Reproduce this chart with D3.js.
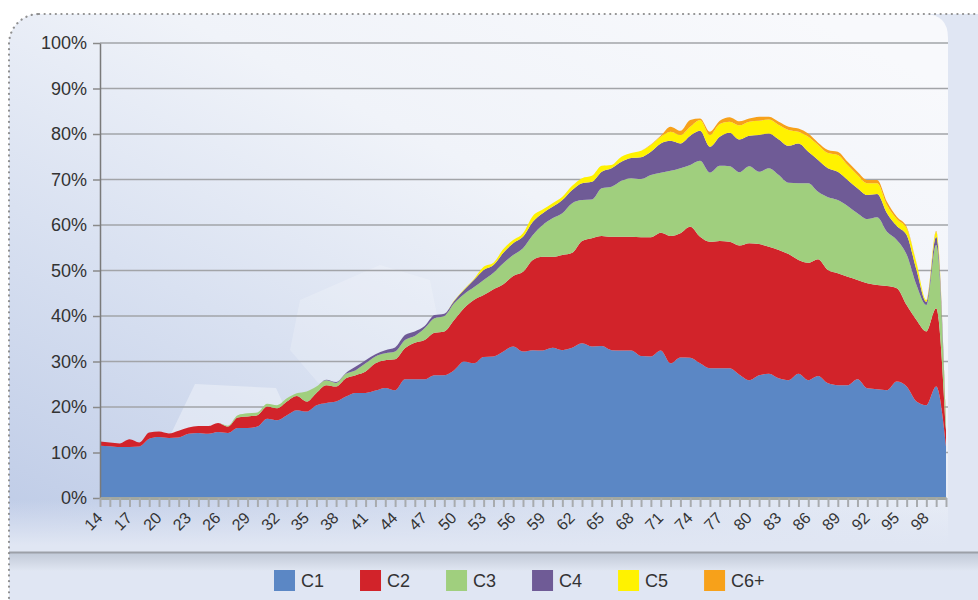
<!DOCTYPE html>
<html>

<head>
  <meta charset="utf-8">
  <title>Stacked area</title>
  <script src="https://d3js.org/d3.v7.min.js"></script>
  <style>
    body { margin: 0; background: #ffffff; }
    text { font-family: "Liberation Sans", Arial, sans-serif; fill: #333; }
  </style>
</head>

<body>
  <div id='view'></div>
  <script>
    var width = 978;
    var height = 600;

    // ages on the x axis
    var years = [14, 15, 16, 17, 18, 19, 20, 21, 22, 23, 24, 25, 26, 27, 28, 29, 30, 31, 32, 33,
      34, 35, 36, 37, 38, 39, 40, 41, 42, 43, 44, 45, 46, 47, 48, 49, 50, 51, 52, 53,
      54, 55, 56, 57, 58, 59, 60, 61, 62, 63, 64, 65, 66, 67, 68, 69, 70, 71, 72, 73,
      74, 75, 76, 77, 78, 79, 80, 81, 82, 83, 84, 85, 86, 87, 88, 89, 90, 91, 92, 93,
      94, 95, 96, 97, 98, 99, 100];
    var tickLabels = [14, 17, 20, 23, 26, 29, 32, 35, 38, 41, 44, 47, 50, 53, 56, 59, 62, 65, 68,
      71, 74, 77, 80, 83, 86, 89, 92, 95, 98];
    var yTicks = [0, 10, 20, 30, 40, 50, 60, 70, 80, 90, 100];

    var keys = ["C1", "C2", "C3", "C4", "C5", "C6+"];
    var colors = ["#5b87c5", "#d2232a", "#a0cf7e", "#6f5b96", "#fff200", "#f7a11a"];

    // series values (% share), one per age
    var c1 = [11.5, 11.4, 11.2, 11.2, 11.3, 13.0, 13.4, 13.2, 13.3, 14.1, 14.3, 14.1, 14.5, 14.3, 15.4, 15.4, 15.7, 17.4, 17.1, 18.2,
      19.3, 19.0, 20.4, 20.9, 21.2, 22.3, 23.1, 23.1, 23.6, 24.2, 23.7, 26.1, 26.1, 26.1, 27.0, 27.0, 28.1, 30.0, 29.6, 31.0,
      31.1, 32.2, 33.3, 32.2, 32.5, 32.4, 33.0, 32.5, 33.0, 34.0, 33.3, 33.4, 32.5, 32.4, 32.4, 31.2, 31.1, 32.4, 29.6, 30.9,
      30.8, 29.6, 28.5, 28.5, 28.5, 27.1, 25.9, 27.0, 27.3, 26.3, 25.9, 27.3, 25.9, 26.8, 25.2, 24.8, 24.8, 26.1, 24.1, 23.9,
      23.7, 25.6, 24.5, 21.2, 20.4, 24.5, 11.4];
    var c2 = [0.9, 0.8, 0.8, 1.7, 0.9, 1.4, 1.2, 1.0, 1.5, 1.4, 1.5, 1.7, 2.0, 1.4, 2.3, 2.5, 2.5, 2.7, 2.6, 3.0,
      3.1, 2.2, 2.7, 3.9, 3.3, 4.0, 3.9, 4.7, 6.0, 6.1, 6.8, 6.8, 8.0, 8.6, 9.3, 9.6, 11.0, 11.7, 13.9, 13.6,
      14.8, 14.8, 15.5, 17.5, 19.8, 20.6, 20.0, 20.9, 20.9, 22.5, 23.8, 24.2, 24.9, 25.0, 25.0, 26.1, 26.2, 25.9, 28.0, 27.3,
      28.8, 27.8, 27.8, 28.0, 27.8, 28.4, 30.1, 28.8, 27.9, 28.2, 27.7, 25.0, 25.8, 25.7, 24.9, 24.6, 23.8, 21.8, 23.1, 22.9,
      22.9, 20.5, 17.9, 17.9, 16.2, 17.2, 3.6];
    var c3 = [0, 0, 0, 0, 0, 0, 0, 0, 0, 0, 0, 0, 0, 0.2, 0.5, 0.7, 0.6, 0.6, 0.7, 0.7,
      0.6, 2.2, 1.4, 1.1, 0.8, 1.0, 1.1, 1.8, 1.5, 1.5, 1.7, 1.8, 1.5, 2.6, 3.2, 3.4, 3.7, 3.1, 2.8, 3.3,
      3.6, 4.6, 4.6, 5.2, 5.5, 7.0, 8.5, 9.2, 10.9, 9.0, 8.5, 10.5, 11.0, 12.3, 12.9, 12.8, 13.7, 13.2, 14.3, 14.3,
      13.6, 16.7, 15.2, 16.5, 16.6, 16.1, 16.9, 15.9, 17.3, 16.5, 15.7, 16.9, 17.5, 14.8, 16.0, 16.1, 15.6, 14.7, 14.1, 14.9,
      11.9, 10.6, 11.1, 7.7, 5.8, 13.9, 1.0];
    var c4 = [0, 0, 0, 0, 0, 0, 0, 0, 0, 0, 0, 0, 0, 0, 0, 0, 0, 0, 0, 0,
      0, 0, 0, 0.1, 0.2, 0.2, 0.8, 0.7, 0.5, 0.7, 0.9, 1.1, 1.0, 0.5, 0.7, 0.5, 0.5, 0.9, 1.6, 2.2,
      1.7, 2.3, 2.6, 2.5, 2.9, 2.6, 2.5, 2.9, 2.9, 3.7, 3.9, 3.6, 4.1, 4.2, 4.4, 4.8, 5.1, 6.4, 6.6, 5.4,
      6.4, 6.6, 5.7, 6.4, 7.4, 7.2, 6.7, 8.1, 7.6, 7.8, 8.1, 8.7, 6.9, 7.0, 6.4, 6.2, 5.7, 5.5, 5.3, 5.1,
      4.1, 3.1, 4.3, 3.3, 0.7, 1.8, 0.1];
    var c5 = [0, 0, 0, 0, 0, 0, 0, 0, 0, 0, 0, 0, 0, 0, 0, 0, 0, 0, 0, 0,
      0, 0, 0, 0, 0, 0, 0, 0, 0, 0, 0, 0, 0, 0, 0, 0, 0.1, 0.2, 0.2, 0.7,
      0.5, 0.8, 0.7, 0.8, 1.3, 0.8, 0.8, 0.7, 0.9, 1.1, 1.3, 1.3, 0.7, 1.1, 1.1, 1.4, 1.5, 1.5, 2.0, 1.9,
      2.0, 2.4, 2.6, 2.8, 2.4, 3.1, 3.1, 3.1, 3.1, 3.2, 3.5, 2.6, 3.3, 3.3, 3.3, 3.7, 3.3, 2.9, 2.6, 2.4,
      1.8, 1.5, 1.5, 1.5, 0.4, 1.1, 0.1];
    var c6 = [0, 0, 0, 0, 0, 0, 0, 0, 0, 0, 0, 0, 0, 0, 0, 0, 0, 0, 0, 0,
      0, 0, 0, 0, 0, 0, 0, 0, 0, 0, 0, 0, 0, 0, 0, 0, 0, 0, 0, 0,
      0, 0, 0, 0, 0, 0, 0, 0, 0, 0, 0, 0, 0, 0, 0, 0, 0.1, 0.2, 1.1, 0.9,
      1.5, 0.3, 0.7, 0.7, 1.0, 0.9, 0.7, 0.9, 0.6, 0.7, 0.7, 0.7, 0.7, 0.5, 0.7, 0.7, 0.7, 0.7, 0.7, 0.7,
      0.7, 0.5, 0.3, 0.1, 0, 0.2, 0];

    var series = [c1, c2, c3, c4, c5, c6];
    var rows = years.map(function (yr, i) {
      var r = { year: yr };
      keys.forEach(function (k, j) { r[k] = series[j][i]; });
      return r;
    });

    var svg = d3.select("#view")
      .append("svg")
      .attr("width", width)
      .attr("height", height);

    var defs = svg.append("defs");

    var bgGrad = defs.append("linearGradient")
      .attr("id", "bgGrad")
      .attr("x1", "0").attr("y1", "0.95").attr("x2", "0.85").attr("y2", "0");
    bgGrad.append("stop").attr("offset", "0%").attr("stop-color", "#bfcce7");
    bgGrad.append("stop").attr("offset", "35%").attr("stop-color", "#d9e1f1");
    bgGrad.append("stop").attr("offset", "65%").attr("stop-color", "#f0f3f9");
    bgGrad.append("stop").attr("offset", "100%").attr("stop-color", "#f8f9fc");

    var fadeGrad = defs.append("linearGradient")
      .attr("id", "fadeGrad")
      .attr("x1", "0").attr("y1", "0").attr("x2", "0").attr("y2", "1");
    fadeGrad.append("stop").attr("offset", "0%").attr("stop-color", "#e0e6f3").attr("stop-opacity", 0);
    fadeGrad.append("stop").attr("offset", "100%").attr("stop-color", "#e0e6f3").attr("stop-opacity", 1);

    var shadowGrad = defs.append("linearGradient")
      .attr("id", "shadowGrad")
      .attr("x1", "0").attr("y1", "0").attr("x2", "0").attr("y2", "1");
    shadowGrad.append("stop").attr("offset", "0%").attr("stop-color", "#c2cad8");
    shadowGrad.append("stop").attr("offset", "100%").attr("stop-color", "#e0e6f2");

    defs.append("clipPath").attr("id", "panelClip")
      .append("rect")
      .attr("x", 9).attr("y", 14)
      .attr("width", 1100).attr("height", 800)
      .attr("rx", 30);

    // outer panel
    svg.append("rect")
      .attr("x", 9).attr("y", 14)
      .attr("width", 1100).attr("height", 800)
      .attr("rx", 30)
      .attr("fill", "#e0e6f3");

    var bg = svg.append("g").attr("clip-path", "url(#panelClip)");

    // glossy plot background
    bg.append("path")
      .attr("d", "M0,14 L924,14 Q948,14 948,38 L948,545 L0,545 Z")
      .attr("fill", "url(#bgGrad)");
    bg.append("rect")
      .attr("x", 0).attr("y", 500)
      .attr("width", 948).attr("height", 45)
      .attr("fill", "url(#fadeGrad)");

    // faint decorative shapes
    bg.append("path")
      .attr("d", "M195,384 L276,388 L300,440 L290,498 L170,498 L168,440 Z")
      .attr("fill", "#ffffff").attr("opacity", 0.35);
    bg.append("path")
      .attr("d", "M300,300 L380,265 L430,280 L440,330 L400,380 L320,385 L290,350 Z")
      .attr("fill", "#ffffff").attr("opacity", 0.2);

    // separator and legend band
    bg.append("rect")
      .attr("x", 0).attr("y", 553)
      .attr("width", 978).attr("height", 18)
      .attr("fill", "url(#shadowGrad)");
    bg.append("line")
      .attr("x1", 0).attr("x2", 978)
      .attr("y1", 552.5).attr("y2", 552.5)
      .attr("stroke", "#9ca0a8")
      .attr("stroke-width", 2);

    // dotted border on top
    svg.append("rect")
      .attr("x", 9).attr("y", 14)
      .attr("width", 1100).attr("height", 800)
      .attr("rx", 30)
      .attr("fill", "none")
      .attr("stroke", "#8f8f8f")
      .attr("stroke-width", 2.2)
      .attr("stroke-linecap", "round")
      .attr("stroke-dasharray", "0.1 5.5");

    var x = d3.scalePoint()
      .domain(years)
      .range([100, 946]);

    var y = d3.scaleLinear()
      .domain([0, 100])
      .range([498, 43]);

    // gridlines
    svg.append("g")
      .selectAll("line")
      .data(yTicks.slice(1))
      .join("line")
      .attr("x1", 100).attr("x2", 948)
      .attr("y1", function (d) { return y(d); })
      .attr("y2", function (d) { return y(d); })
      .attr("stroke", "#a2a4a8")
      .attr("stroke-width", 1.5);

    var stacked = d3.stack().keys(keys)(rows);

    var area = d3.area()
      .x(function (d) { return x(d.data.year); })
      .y0(function (d) { return y(d[0]); })
      .y1(function (d) { return y(d[1]); })
      .curve(d3.curveMonotoneX);

    svg.append("g")
      .selectAll("path")
      .data(stacked)
      .join("path")
      .attr("d", area)
      .attr("fill", function (d, i) { return colors[i]; });

    // y axis
    var yAxis = svg.append("g")
      .attr("transform", "translate(100,0)")
      .call(d3.axisLeft(y).tickValues(yTicks).tickFormat(function (d) { return d + "%"; })
        .tickSize(7).tickPadding(6).tickSizeOuter(0));
    yAxis.select(".domain").attr("stroke", "#7a7a7a").attr("stroke-width", 1.5);
    yAxis.selectAll(".tick line").attr("stroke", "#8a8a8a").attr("stroke-width", 1.5);
    yAxis.selectAll("text")
      .style("font-size", "18px")
      .style("font-family", "'Liberation Sans', Arial, sans-serif")
      .attr("fill", "#333");

    // x axis
    var xAxis = svg.append("g")
      .attr("transform", "translate(0,498)")
      .call(d3.axisBottom(x).tickValues(years)
        .tickFormat(function (d) { return tickLabels.indexOf(d) >= 0 ? d : ""; })
        .tickSize(9).tickSizeOuter(0));
    xAxis.select(".domain").attr("stroke", "#a2a8a2").attr("stroke-width", 3);
    xAxis.selectAll(".tick line").attr("stroke", "#a8abae").attr("stroke-width", 2);
    xAxis.selectAll("text")
      .attr("x", 3)
      .attr("y", 21)
      .attr("dy", 0)
      .attr("transform", "rotate(-45,3,21)")
      .style("text-anchor", "end")
      .style("font-size", "16px")
      .style("font-family", "'Liberation Sans', Arial, sans-serif")
      .attr("fill", "#333");

    // legend
    var legend = svg.append("g").attr("transform", "translate(274,570)");
    var lx = 0;
    keys.forEach(function (k, i) {
      var item = legend.append("g").attr("transform", "translate(" + lx + ",0)");
      item.append("rect")
        .attr("width", 21).attr("height", 21)
        .attr("fill", colors[i]);
      var t = item.append("text")
        .attr("x", 27).attr("y", 17)
        .style("font-size", "18px")
        .text(k);
      lx += 27 + t.node().getComputedTextLength() + 36;
    });
  </script>
</body>

</html>
